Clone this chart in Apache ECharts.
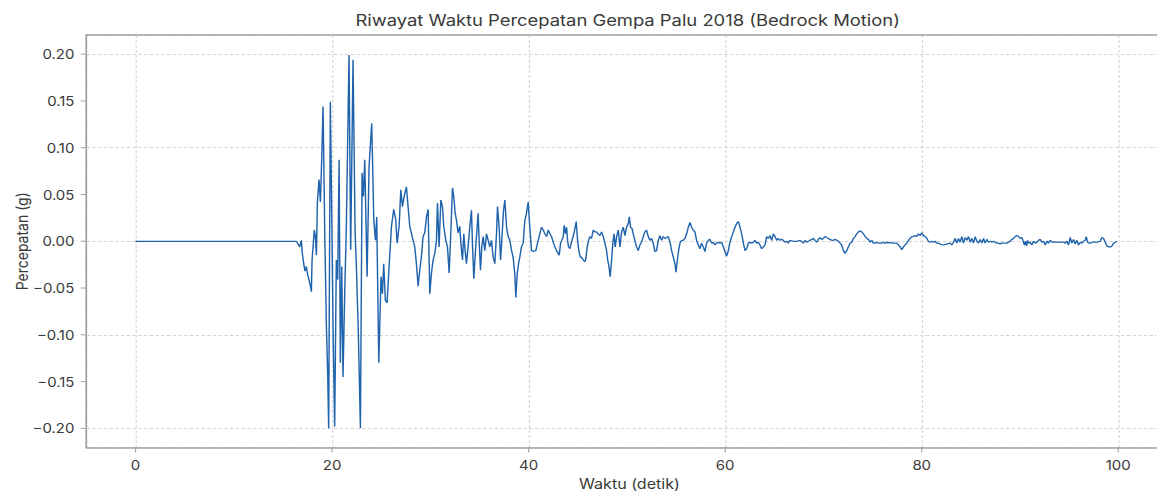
<!DOCTYPE html>
<html>
<head>
<meta charset="utf-8">
<script src="https://cdn.jsdelivr.net/npm/echarts@6/dist/echarts.min.js"></script>
<style>
  html, body { margin: 0; padding: 0; background: #fff; overflow: hidden; }
  #wrap { width: 1161px; height: 494px; overflow: hidden; position: relative; background: #fff; }
  /* the figure is laid out narrower and widened horizontally; its right edge runs past the view */
  #chart { width: 1020px; height: 494px; transform: scaleX(1.1495); transform-origin: 0 0; }
  #tepi { position: absolute; right: 0; top: 0; width: 4px; height: 494px; background: #fff; z-index: 5; }
</style>
</head>
<body>
<div id="wrap"><div id="chart"></div><div id="tepi"></div></div>
<script>
// Palu 2018 bedrock acceleration record: [time (s), acceleration (g)]
const judul = 'Riwayat Waktu Percepatan Gempa Palu 2018 (Bedrock Motion)';
const namaX = 'Waktu (detik)';
const namaY = 'Percepatan (g)';

const xTicks = [0, 20, 40, 60, 80, 100];
const yTicks = [-0.2, -0.15, -0.1, -0.05, 0, 0.05, 0.1, 0.15, 0.2];

// quiet pre-event part
const faseDiam = [[0, 0], [16.36, 0]];

// strong shaking
const faseKuat = [
  [16.53,-0.003],[16.70,-0.006],[16.87,0.001],[16.97,-0.013],[17.11,-0.024],[17.24,-0.032],
  [17.38,-0.027],[17.52,-0.036],[17.65,-0.041],[17.79,-0.048],[17.89,-0.054],[17.96,-0.020],
  [18.06,-0.006],[18.19,0.012],[18.30,0.005],[18.40,-0.015],[18.50,0.041],[18.67,0.066],
  [18.81,0.042],[18.94,0.087],[19.08,0.144],[19.25,0.009],[19.42,-0.091],[19.55,-0.141],
  [19.65,-0.200],[19.82,0.149],[19.96,0.030],[20.10,-0.095],[20.26,-0.198],[20.43,-0.020],
  [20.57,-0.041],[20.71,0.087],[20.84,-0.130],[20.98,-0.027],[21.11,-0.145],[21.28,-0.056],
  [21.45,0.016],[21.72,0.199],[21.89,-0.009],[22.13,0.194],[22.34,0.009],[22.47,-0.027],
  [22.67,-0.098],[22.88,-0.200],[23.05,0.073],[23.18,0.048],[23.32,0.087],[23.56,-0.038],
  [23.76,0.080],[24.03,0.126],[24.24,0.023],[24.41,0.001],[24.54,0.026],[24.75,-0.130]
];

const faseLanjut = [
  [24.98,-0.038],[25.12,-0.056],[25.25,-0.024],[25.42,-0.063],[25.59,-0.066],[25.80,-0.027],
  [26.04,0.016],[26.27,0.034],[26.48,0.023],[26.61,-0.002],[26.82,0.016],[26.99,0.055],
  [27.16,0.037],[27.33,0.048],[27.56,0.058],[27.73,0.037],[27.90,0.016],[28.07,0.009],
  [28.24,0.001],[28.41,-0.006],[28.58,-0.024],[28.75,-0.048],[28.92,-0.031],[29.09,-0.016],
  [29.26,0.005],[29.43,0.009],[29.60,0.026],[29.77,0.034],[29.94,-0.056],[30.11,-0.034],
  [30.28,-0.020],[30.45,-0.013],[30.62,0.001],[30.72,0.041],[30.89,-0.006],[31.06,0.044],
  [31.23,0.037],[31.36,0.016],[31.57,0.001],[31.74,-0.006],[31.91,-0.034],[32.08,0.009],
  [32.25,0.057],[32.38,0.048],[32.52,0.030],[32.65,0.023],[32.82,0.009],[32.99,0.016],
  [33.10,-0.002],[33.27,-0.020],[33.40,0.008],[33.50,-0.006],[33.67,-0.024],[33.84,-0.006],
  [34.01,0.015],[34.18,0.033],[34.28,-0.002],[34.42,-0.040],[34.59,-0.010],[34.76,0.015],
  [34.86,0.030],[34.96,0.001],[35.10,-0.031],[35.23,-0.006],[35.37,0.005],[35.54,-0.010],
  [35.71,0.008],[35.88,0.001],[36.05,-0.006],[36.22,0.001],[36.39,-0.017],[36.56,-0.024],
  [36.73,0.008],[36.83,0.037],[37.00,0.015],[37.14,-0.020],[37.27,0.001],[37.44,0.033],
  [37.58,0.044],[37.75,0.015],[37.92,0.005],[38.09,0.001],[38.26,-0.010],[38.42,-0.017],
  [38.59,-0.035],[38.70,-0.060],[38.83,-0.035],[38.97,-0.024],[39.10,-0.017],[39.27,-0.006],
  [39.44,-0.002],[39.61,0.022],[39.78,0.030],[39.95,0.042],[40.12,0.015],[40.29,-0.010],
  [40.46,-0.011],[40.73,-0.010],[40.97,0.001],[41.14,0.008],[41.31,0.015],[41.48,0.012],
  [41.65,0.008],[41.82,0.005],[41.99,0.012]
];

const faseMereda = [
  [42.16,0.008],[42.33,0.005],[42.50,-0.001],[42.67,-0.006],[42.84,-0.010],[43.01,-0.013],
  [43.11,-0.015],[43.25,-0.002],[43.38,0.001],[43.52,0.005],[43.62,0.017],[43.75,0.008],
  [43.86,0.015],[43.96,0.001],[44.06,-0.006],[44.20,-0.008],[44.33,-0.002],[44.47,0.003],
  [44.60,0.008],[44.74,0.015],[44.84,0.021],[44.98,0.001],[45.11,-0.010],[45.25,-0.017],
  [45.38,-0.017],[45.55,-0.020],[45.72,-0.022],[45.82,-0.019],[45.96,-0.006],[46.10,0.001],
  [46.23,0.005],[46.40,0.003],[46.57,0.012],[46.74,0.010],[46.91,0.010],[47.08,0.008],
  [47.25,0.006],[47.42,0.010],[47.59,0.005],[47.76,-0.002],[47.93,-0.010],[48.03,-0.019],
  [48.17,-0.027],[48.30,-0.038],[48.44,-0.020],[48.57,-0.002],[48.68,0.008],[48.81,-0.006],
  [48.95,0.005],[49.12,0.012],[49.29,-0.006],[49.46,0.010],[49.63,0.015],[49.80,0.006],
  [49.97,0.015],[50.14,0.019],[50.24,0.026],[50.37,0.015],[50.51,0.014],[50.64,0.008],
  [50.81,0.001],[50.98,-0.006],[51.15,-0.010],[51.32,-0.004],[51.49,-0.001],[51.66,0.005],
  [51.83,0.010],[52.00,0.012],[52.17,0.005],[52.34,0.001],[52.51,0.003],[52.68,-0.002],
  [52.85,-0.011],[53.02,-0.010],[53.19,0.001],[53.36,0.006],[53.53,0.001],[53.70,0.005],
  [53.87,0.003],[54.04,0.004],[54.21,0.005],[54.38,-0.001],[54.55,-0.010],[54.72,-0.017],
  [54.89,-0.024],[54.99,-0.033],[55.13,-0.020],[55.26,-0.010],[55.40,-0.002],[55.57,0.001],
  [55.74,0.001],[55.91,0.003],[56.08,0.008],[56.25,0.015],[56.42,0.020],
  [56.59,0.015],[56.75,0.012],[56.92,0.010],[57.09,0.001],[57.26,-0.004],[57.43,-0.008],
  [57.60,-0.002],[57.77,-0.006],[57.94,-0.011],[58.11,-0.002],[58.28,0.001],[58.45,0.002],
  [58.62,-0.002],[58.79,-0.001],[58.96,-0.004],[59.13,-0.002],[59.30,-0.001],[59.47,-0.002],
  [59.64,-0.001],[59.81,-0.006],[59.98,-0.011],[60.15,-0.016],[60.32,-0.010],[60.49,-0.001],
  [60.66,0.005],[60.83,0.010],[61.00,0.015],[61.17,0.019],[61.34,0.021],[61.51,0.015],
  [61.68,0.008],[61.85,-0.002],[62.02,-0.010],[62.19,-0.008],[62.36,-0.002],[62.53,-0.001],
  [62.70,-0.002],[62.86,-0.001],[63.03,0.001],[63.20,-0.002],[63.37,-0.001],[63.54,-0.004],
  [63.71,-0.008],[63.88,-0.006],[64.05,-0.004],[64.22,0.005],[64.39,0.003],[64.56,0.006],
  [64.73,0.001],[64.90,0.008],[65.07,0.005],[65.24,0.001],[65.41,0.003],[65.58,0.001],
  [65.75,0.002],[65.92,0.001],[66.09,-0.001],[66.26,0.000],[66.43,-0.002],[66.60,0.001],
  [66.94,0.000],[67.28,0.000],[67.62,0.001],[67.96,-0.002],[68.13,0.001],[68.30,-0.001],
  [68.47,0.000],[68.64,0.001],[68.81,0.002],[68.98,0.003],[69.14,0.001],[69.31,-0.001],
  [69.48,0.002],[69.65,0.004],[69.82,0.002],[69.99,0.003],[70.16,0.005],[70.33,0.004],
  [70.50,0.003],[70.67,0.002],[70.84,0.001],[71.01,0.001],[71.18,0.002],[71.35,0.001],
  [71.52,0.000],[71.69,-0.002],[71.86,-0.004],[72.03,-0.010],[72.20,-0.013]
];

const faseEkor = [
  [72.37,-0.010],[72.54,-0.006],[72.71,-0.002],[72.88,-0.001],[73.05,0.003],[73.22,0.005],
  [73.39,0.008],[73.56,0.010],[73.73,0.011],[73.90,0.010],[74.07,0.008],[74.24,0.005],
  [74.41,0.003],[74.58,0.002],[74.75,-0.001],[74.92,0.001],[75.08,-0.002],[75.25,-0.002],
  [75.42,-0.001],[75.59,-0.002],[75.76,-0.002],[75.93,-0.002],[76.10,-0.001],[76.27,-0.002],
  [76.44,-0.001],[76.61,-0.002],[76.78,-0.001],[76.95,-0.002],[77.12,-0.002],[77.29,-0.002],
  [77.46,-0.002],[77.63,-0.004],[77.80,-0.006],[77.97,-0.009],[78.14,-0.006],[78.31,-0.004],
  [78.48,-0.002],[78.65,0.001],[78.82,0.003],[78.99,0.005],[79.16,0.005],[79.33,0.006],
  [79.50,0.005],[79.67,0.008],[79.84,0.006],[80.01,0.009],[80.18,0.006],[80.35,0.005],
  [80.52,0.003],[80.69,0.000],[80.86,-0.001],[81.03,0.000],[81.19,-0.001],[81.36,0.000],
  [81.53,-0.002],[81.70,-0.002],[81.87,-0.003],[82.21,-0.004],[82.55,-0.003],[82.89,-0.002],
  [83.06,-0.004],[83.23,-0.001],[83.40,0.003],[83.57,-0.002],[83.74,0.003],[83.91,-0.001],
  [84.08,0.005],[84.25,-0.002],[84.42,0.004],[84.59,0.001],[84.76,0.005],[84.93,-0.001],
  [85.10,0.003],[85.27,-0.002],[85.44,0.005],[85.61,0.000],[85.78,-0.002],[85.95,0.002],
  [86.12,-0.002],[86.29,0.003],[86.46,-0.002],[86.63,0.002],[86.80,-0.001],
  [86.97,0.000],[87.14,-0.001],[87.30,0.000],[87.47,-0.001],[87.64,-0.002],[87.81,-0.002],
  [87.98,-0.003],[88.15,-0.002],[88.32,-0.002],[88.49,-0.002],[88.66,-0.002],[88.83,-0.001],
  [89.00,0.000],[89.17,0.002],[89.34,0.003],[89.51,0.005],[89.68,0.006],[89.85,0.005],
  [90.02,0.003],[90.19,0.004],[90.36,-0.001],[90.46,-0.004],[90.56,0.000],[90.67,-0.005],
  [90.77,0.001],[90.87,-0.002],[91.04,-0.001],[91.21,-0.004],[91.38,0.000],[91.55,-0.002],
  [91.72,-0.001],[91.89,0.001],[92.06,0.002],[92.23,-0.001],[92.40,0.000],[92.57,-0.004],
  [92.74,0.000],[92.91,-0.002],[93.08,0.001],[93.25,-0.001],[93.41,-0.001],[93.75,-0.001],
  [94.09,-0.001],[94.43,-0.001],[94.60,-0.002],[94.77,0.000],[94.94,-0.004],[95.11,0.004],
  [95.28,-0.002],[95.45,0.002],[95.62,-0.003],[95.79,0.001],[95.96,-0.004],[96.13,-0.001],
  [96.30,-0.002],[96.47,0.000],[96.64,0.001],[96.74,0.005],[96.88,-0.001],[96.98,-0.002],
  [97.15,-0.002],[97.32,-0.001],[97.49,-0.001],[97.83,-0.001],[98.17,0.000],[98.34,0.004],
  [98.51,0.003],[98.68,-0.001],[98.85,-0.005],[99.02,-0.006],[99.19,-0.006],[99.36,-0.005],
  [99.53,-0.002],[99.69,-0.001],[99.86,0.000]
];

const rekaman = [].concat(faseDiam, faseKuat, faseLanjut, faseMereda, faseEkor);

const fontUtama = 'Inter, "DejaVu Sans", sans-serif';
const warnaTeks = '#3a3a3a';
const warnaGaris = '#1f63ad';
const warnaBingkai = '#a3a3a3';
const xMin = -5, xMax = 105.52;
const yMin = -0.2205, yMax = 0.2205;

function labelY(v) {
  const s = Math.abs(v).toFixed(2);
  return v < 0 ? '\u2212' + s : s;
}

// outward tick marks on the lower and left frame edges, placed through the axes
function tickBawah(params, api) {
  const p = api.coord([api.value(0), api.value(1)]);
  return { type: 'line', shape: { x1: p[0], y1: p[1], x2: p[0], y2: p[1] + 5 },
           style: { stroke: warnaBingkai, lineWidth: 1 } };
}
function tickKiri(params, api) {
  const p = api.coord([api.value(0), api.value(1)]);
  return { type: 'line', shape: { x1: p[0] - 5, y1: p[1], x2: p[0], y2: p[1] },
           style: { stroke: warnaBingkai, lineWidth: 1 } };
}

const chart = echarts.init(document.getElementById('chart'), null, { renderer: 'svg' });
chart.setOption({
  animation: false,
  backgroundColor: '#ffffff',
  title: {
    text: judul,
    left: 541,
    top: 7,
    textAlign: 'center',
    textStyle: { fontFamily: fontUtama, fontSize: 16, fontWeight: 'normal', color: warnaTeks }
  },
  grid: {
    left: 75.2, right: 0, top: 35, bottom: 46.5,
    show: false, containLabel: false, outerBoundsMode: 'none'
  },
  xAxis: [{
    type: 'value',
    min: xMin, max: xMax,
    name: namaX,
    nameLocation: 'middle',
    nameGap: 29,
    nameMoveOverlap: false,
    nameTextStyle: { fontFamily: fontUtama, fontSize: 14, color: warnaTeks },
    axisLine: { show: true, onZero: false, lineStyle: { color: warnaBingkai, width: 1.5 } },
    axisTick: { show: false },
    axisLabel: {
      customValues: xTicks, margin: 11,
      fontFamily: fontUtama, fontSize: 13, color: warnaTeks
    },
    splitLine: { show: true, lineStyle: { color: '#d6d6d6', width: 1, type: [3, 2] } }
  }, {
    // upper frame edge
    type: 'value',
    position: 'top',
    min: xMin, max: xMax,
    axisLine: { show: true, onZero: false, lineStyle: { color: warnaBingkai, width: 1.5 } },
    axisTick: { show: false },
    axisLabel: { show: false },
    splitLine: { show: false }
  }],
  yAxis: {
    type: 'value',
    min: yMin, max: yMax,
    name: namaY,
    nameLocation: 'middle',
    nameGap: 49,
    nameMoveOverlap: false,
    nameTextStyle: { fontFamily: fontUtama, fontSize: 14, color: warnaTeks },
    axisLine: { show: true, onZero: false, lineStyle: { color: warnaBingkai, width: 1.5 } },
    axisTick: { show: false },
    axisLabel: {
      customValues: yTicks, margin: 10.5, formatter: labelY,
      fontFamily: fontUtama, fontSize: 13, color: warnaTeks
    },
    splitLine: { show: true, lineStyle: { color: '#d6d6d6', width: 1, type: [3, 2] } }
  },
  series: [{
    type: 'line',
    xAxisIndex: 0,
    data: rekaman,
    showSymbol: false,
    symbol: 'none',
    sampling: null,
    lineStyle: { color: warnaGaris, width: 1.25 },
    z: 3
  }, {
    type: 'custom',
    xAxisIndex: 0,
    data: xTicks.map(v => [v, yMin]),
    renderItem: tickBawah,
    clip: false,
    silent: true,
    z: 4
  }, {
    type: 'custom',
    xAxisIndex: 0,
    data: yTicks.map(v => [xMin, v]),
    renderItem: tickKiri,
    clip: false,
    silent: true,
    z: 4
  }]
});
</script>
</body>
</html>
